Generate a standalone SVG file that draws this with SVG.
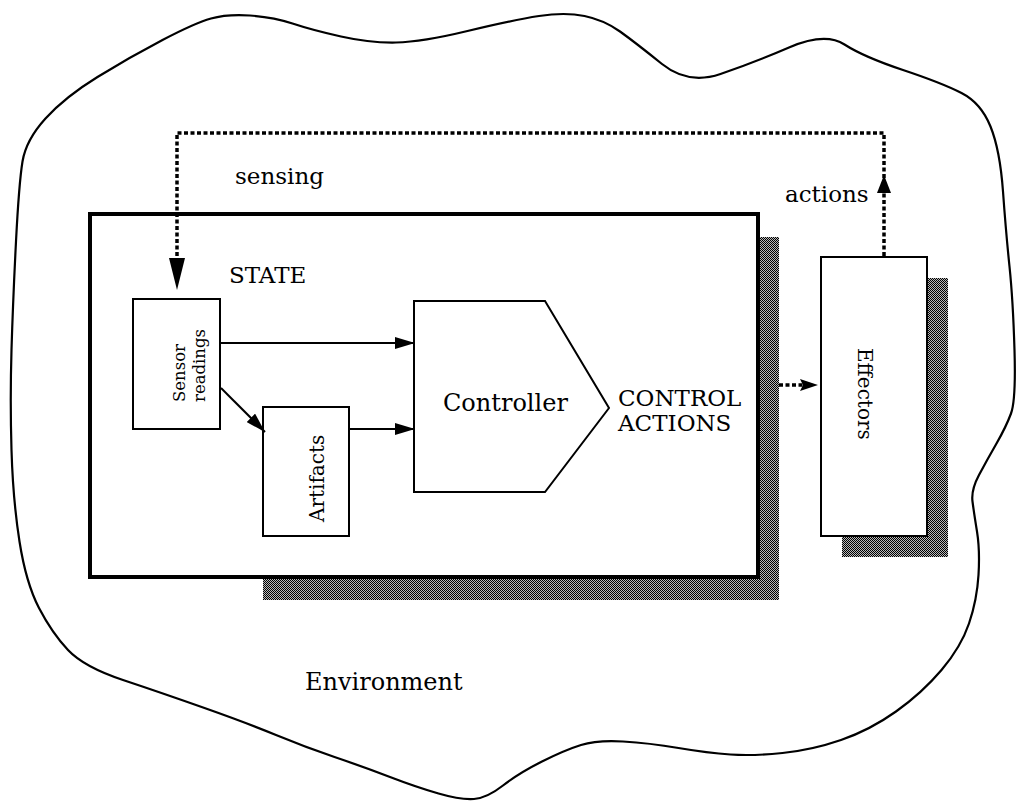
<svg xmlns="http://www.w3.org/2000/svg" width="1018" height="803" viewBox="0 0 1018 803">
  <style>
    .lbl { font-family: "DejaVu Serif", "Liberation Serif", serif; fill: #000; }
    .box { fill: #fff; stroke: #000; stroke-width: 2; }
    .shade { fill: url(#halftone); stroke: none; }
    .solid { fill: none; stroke: #000; stroke-width: 2; }
    .dash { fill: none; stroke: #000; stroke-width: 3.5; stroke-dasharray: 4 2.5; }
    .head { fill: #000; stroke: none; }
  </style>
  <defs>
    <pattern id="halftone" width="2" height="2" patternUnits="userSpaceOnUse">
      <rect width="2" height="2" fill="#b8b8b8"/>
      <rect width="1" height="1" fill="#000"/>
      <rect x="1" y="1" width="1" height="1" fill="#000"/>
    </pattern>
    <marker id="ah" viewBox="0 0 20 12" refX="20" refY="6" markerWidth="20" markerHeight="12" markerUnits="userSpaceOnUse" orient="auto">
      <path d="M0,0 L20,6 L0,12 z" fill="#000"/>
    </marker>
    <marker id="ahd" viewBox="0 0 18 12" refX="18" refY="6" markerWidth="18" markerHeight="12" markerUnits="userSpaceOnUse" orient="auto">
      <path d="M0,0 L18,6 L0,12 L4,6 z" fill="#000"/>
    </marker>
  </defs>
  <rect width="1018" height="803" fill="#fff"/>

  <g id="environment">
    <path fill="#fff" stroke="#000" stroke-width="2.2" d="M11.5,450 Q10,400 11.5,350 Q13,300 16,241.5 Q19,183 22.5,161.5 Q26,140 45.5,118.5 Q65,97 97.5,77 Q130,57 162.5,40 Q195,23 211,18.5 Q227,14 250,15.5 Q273,17 292.5,23.5 Q312,30 341,36.5 Q370,43 396,42.5 Q422,42 467.5,31 Q513,20 539,16 Q565,12 584.5,16 Q604,20 620,31.5 Q636,43 662,64 Q688,85 720.5,74 Q753,63 789,47.5 Q825,32 844.5,44.5 Q864,57 903,70 Q942,83 961.5,93 Q981,103 990.5,126.5 Q1000,150 1003,191.5 Q1006,233 1009.5,266.5 Q1013,300 1014.5,350 Q1016,400 1011,413.5 Q1006,427 996.5,443.5 Q987,460 979,475 Q971,490 972.5,501.5 Q974,513 977,531.5 Q980,550 978.5,575 Q977,600 969,623.5 Q961,647 941.5,670 Q922,693 896,711.5 Q870,730 841,740 Q812,750 782.5,753 Q753,756 730.5,754.5 Q708,753 678.5,748 Q649,743 623,741.5 Q597,740 581,745 Q565,750 542,761.5 Q519,773 503,785.5 Q487,798 474,799 Q461,800 438.5,793.5 Q416,787 390,777 Q364,767 334.5,757 Q305,747 276,735 Q247,723 204.5,708 Q162,693 123,680 Q84,667 68,650 Q52,633 39,608 Q26,583 19.5,541.5 Q13,500 11.5,450 Z"/>
    <text class="lbl" x="305" y="690" font-size="24">Environment</text>
  </g>

  <g id="agent">
    <rect class="shade" x="263" y="237" width="516" height="363"/>
    <rect x="90" y="214" width="668" height="363" fill="#fff" stroke="#000" stroke-width="4"/>
    <text class="lbl" x="229" y="283" font-size="23">STATE</text>
  </g>

  <g id="sensor">
    <rect class="box" x="133" y="299" width="87" height="130"/>
    <text class="lbl" font-size="16.5" transform="translate(185,402) rotate(-90)">Sensor</text>
    <text class="lbl" font-size="16.5" transform="translate(205,402) rotate(-90)">readings</text>
  </g>

  <g id="artifacts">
    <rect class="box" x="263" y="407" width="86" height="129"/>
    <text class="lbl" font-size="20" transform="translate(324,522) rotate(-90)">Artifacts</text>
  </g>

  <g id="controller">
    <polygon class="box" points="414,301 545,301 609,408 545,492 414,492"/>
    <text class="lbl" x="443" y="411" font-size="24">Controller</text>
    <text class="lbl" x="618" y="406" font-size="23">CONTROL</text>
    <text class="lbl" x="618" y="431" font-size="23">ACTIONS</text>
  </g>

  <g id="effectors">
    <rect class="shade" x="842" y="278" width="106" height="279"/>
    <rect class="box" x="821" y="257" width="106" height="279"/>
    <text class="lbl" font-size="20" transform="translate(858,348) rotate(90)">Effectors</text>
  </g>

  <g id="connectors">
    <path class="solid" d="M220,343 H415" marker-end="url(#ah)"/>
    <path class="solid" stroke-width="2.5" d="M221,388 L265,432" marker-end="url(#ah)"/>
    <path class="solid" d="M349,429 H415" marker-end="url(#ah)"/>
    <path class="dash" stroke-width="3" d="M779,385 H806"/>
    <polygon class="head" points="800,379 818,385 800,391 803,385"/>
    <path class="dash" d="M884,256 V133 H177 V262"/>
    <polygon class="head" points="169,258 185,258 177,290"/>
    <polygon class="head" points="884,175 877,193 891,193"/>
    <text class="lbl" x="235" y="184" font-size="23">sensing</text>
    <text class="lbl" x="785" y="202" font-size="23">actions</text>
  </g>
</svg>
